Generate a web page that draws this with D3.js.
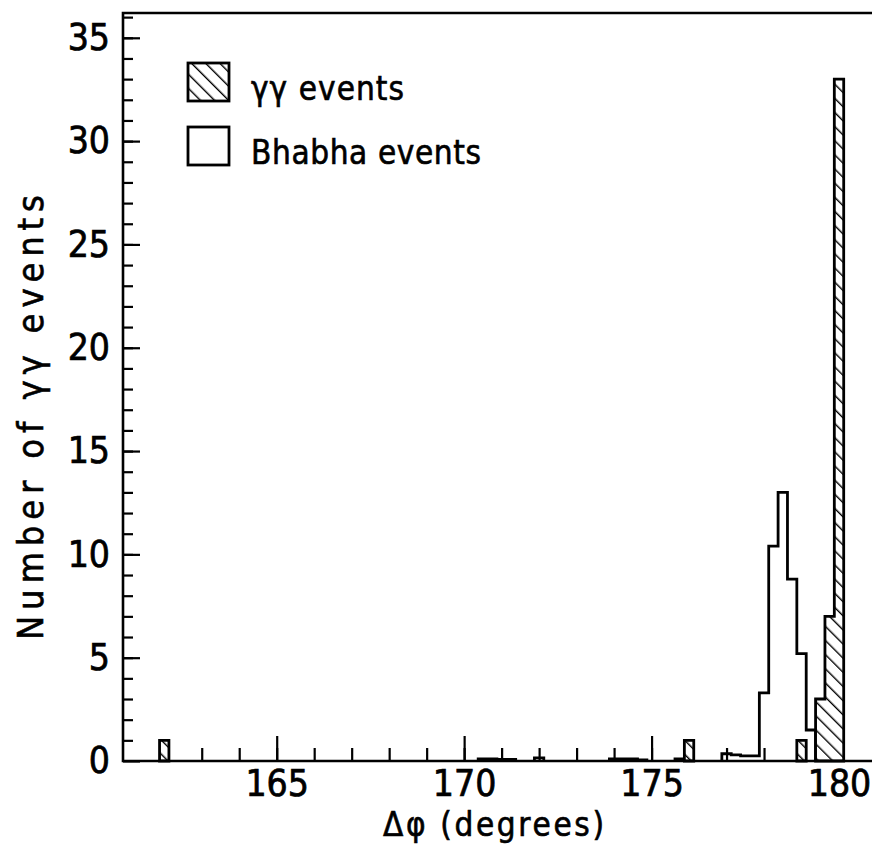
<!DOCTYPE html>
<html>
<head>
<meta charset="utf-8">
<script src="https://cdn.jsdelivr.net/npm/d3@7"></script>
<style>
  body { margin: 0; background: #fff; }
  svg { display: block; }
  .num { font-family: "Liberation Sans Narrow", "DejaVu Sans Condensed", sans-serif; font-size: 37px; fill: #000; stroke: #000; stroke-width: 0.7px; }
  .lab { font-family: "DejaVu Sans Condensed", "DejaVu Sans", sans-serif; font-size: 33px; fill: #000; stroke: #000; stroke-width: 0.6px; }
</style>
</head>
<body>
<div id="container"></div>
<script>
// Chart size
const width = 872;
const height = 855;

// Histogram data (bin centres in degrees, bin width 0.25)
const binWidth = 0.25;
const ggCenters = [162.0, 176.0, 179.0, 179.5, 179.75, 180.0];
const ggCounts = [1, 1, 1, 3, 7, 33];
const bhabhaCenters = [170.5, 170.75, 171.0, 171.25, 172.0, 174.0, 174.25, 174.5, 174.75, 175.75,
                       177.0, 177.25, 177.5, 177.75, 178.0, 178.25, 178.5, 178.75, 179.0, 179.25];
const bhabhaCounts = [0.1, 0.1, 0.08, 0.08, 0.15, 0.1, 0.1, 0.1, 0.05, 0.1,
                      0.35, 0.3, 0.25, 0.25, 3.3, 10.4, 13.0, 8.8, 5.2, 1.5];

// Tick values
const xMajorTicks = [165, 170, 175, 180];
const xMinorTicks = d3.range(162, 181);
const yMajorTicks = [0, 5, 10, 15, 20, 25, 30, 35];
const yMinorTicks = d3.range(1, 37);

const svg = d3.select('#container')
    .append('svg')
    .attr('width', width)
    .attr('height', height);

// Scales
const x = d3.scaleLinear().domain([160.9, 180.88]).range([123, 872]);
const y = d3.scaleLinear().domain([0, 36.2]).range([761, 13]);

// Hatch pattern for the gamma-gamma bars ("\" direction)
const defs = svg.append('defs');
const pat = defs.append('pattern')
    .attr('id', 'hatch')
    .attr('patternUnits', 'userSpaceOnUse')
    .attr('width', 10)
    .attr('height', 10)
    .attr('patternTransform', 'rotate(-45)');
pat.append('rect').attr('width', 10).attr('height', 10).attr('fill', '#fff');
pat.append('line')
    .attr('x1', 0).attr('y1', 0).attr('x2', 0).attr('y2', 10)
    .attr('stroke', '#000').attr('stroke-width', 2.8);

// Axes: minor and major ticks pointing inward
svg.append('g')
    .attr('transform', `translate(0,${y(0)})`)
    .call(d3.axisBottom(x).tickValues(xMinorTicks).tickSize(-13).tickFormat(''))
    .call(g => g.select('.domain').remove())
    .selectAll('line').attr('stroke-width', 2.2);

svg.append('g')
    .attr('transform', `translate(0,${y(0)})`)
    .call(d3.axisBottom(x).tickValues(xMajorTicks).tickSize(-25).tickPadding(9).tickFormat(d3.format('d')))
    .call(g => g.select('.domain').remove())
    .call(g => g.selectAll('line').attr('stroke-width', 2.2))
    .call(g => g.selectAll('text').attr('class', 'num'));

svg.append('g')
    .attr('transform', `translate(${x.range()[0]},0)`)
    .call(d3.axisLeft(y).tickValues(yMinorTicks).tickSize(-10).tickFormat(''))
    .call(g => g.select('.domain').remove())
    .selectAll('line').attr('stroke-width', 2.2);

svg.append('g')
    .attr('transform', `translate(${x.range()[0]},0)`)
    .call(d3.axisLeft(y).tickValues(yMajorTicks).tickSize(-17).tickPadding(13).tickFormat(d3.format('d')))
    .call(g => g.select('.domain').remove())
    .call(g => g.selectAll('line').attr('stroke-width', 2.2))
    .call(g => g.selectAll('text').attr('class', 'num'));

// Remove the font attributes d3 puts on axis groups so the CSS classes apply
svg.selectAll('g').attr('font-size', null).attr('font-family', null);

// Group adjacent bins into runs so each run is drawn as one step outline
function toRuns(centers, counts) {
    const bins = centers.map((c, i) => ({ c, v: counts[i] }));
    const out = [];
    bins.forEach((d, i) => {
        if (i > 0 && Math.abs(d.c - bins[i - 1].c - binWidth) < 1e-6) out[out.length - 1].push(d);
        else out.push([d]);
    });
    return out;
}
function stepPath(run) {
    let p = `M${x(run[0].c - binWidth / 2)},${y(0)}`;
    run.forEach(d => {
        p += `L${x(d.c - binWidth / 2)},${y(d.v)}L${x(d.c + binWidth / 2)},${y(d.v)}`;
    });
    p += `L${x(run[run.length - 1].c + binWidth / 2)},${y(0)}`;
    return p;
}

// Bhabha histogram (open outline)
svg.selectAll('.bhabha')
    .data(toRuns(bhabhaCenters, bhabhaCounts))
    .enter().append('path')
    .attr('class', 'bhabha')
    .attr('d', stepPath)
    .style('fill', 'none')
    .style('stroke', '#000')
    .style('stroke-width', 2.8);

// Gamma-gamma histogram (hatched)
svg.selectAll('.gg')
    .data(toRuns(ggCenters, ggCounts))
    .enter().append('path')
    .attr('class', 'gg')
    .attr('d', run => stepPath(run) + 'Z')
    .style('fill', 'url(#hatch)')
    .style('stroke', '#000')
    .style('stroke-width', 2.8)
    .style('stroke-linejoin', 'miter');

// Frame: left, top and bottom lines
svg.append('path')
    .attr('d', `M${x.range()[1]},${y(0)}H${x.range()[0]}V${y.range()[1]}H${x.range()[1]}`)
    .style('fill', 'none')
    .style('stroke', '#000')
    .style('stroke-width', 2.6);

// Axis titles
svg.append('text')
    .attr('class', 'lab')
    .attr('x', 383).attr('y', 836)
    .attr('textLength', 221).attr('lengthAdjust', 'spacing')
    .text('Δφ (degrees)');

svg.append('text')
    .attr('class', 'lab')
    .style('font-size', '36px')
    .attr('transform', 'translate(43,640) rotate(-90)')
    .attr('textLength', 445).attr('lengthAdjust', 'spacing')
    .text('Number of γγ events');

// Legend
const legend = [
    { label: 'γγ events', fill: 'url(#hatch)', y: 63, len: 153 },
    { label: 'Bhabha events', fill: '#fff', y: 127, len: 230 }
];
svg.selectAll('.legbox')
    .data(legend)
    .enter().append('rect')
    .attr('x', 188).attr('y', d => d.y)
    .attr('width', 41).attr('height', 38)
    .style('fill', d => d.fill)
    .style('stroke', '#000')
    .style('stroke-width', 2.8);
svg.selectAll('.legtext')
    .data(legend)
    .enter().append('text')
    .attr('class', 'lab')
    .attr('x', 251).attr('y', d => d.y + 37)
    .attr('textLength', d => d.len).attr('lengthAdjust', 'spacing')
    .text(d => d.label);
</script>
</body>
</html>
